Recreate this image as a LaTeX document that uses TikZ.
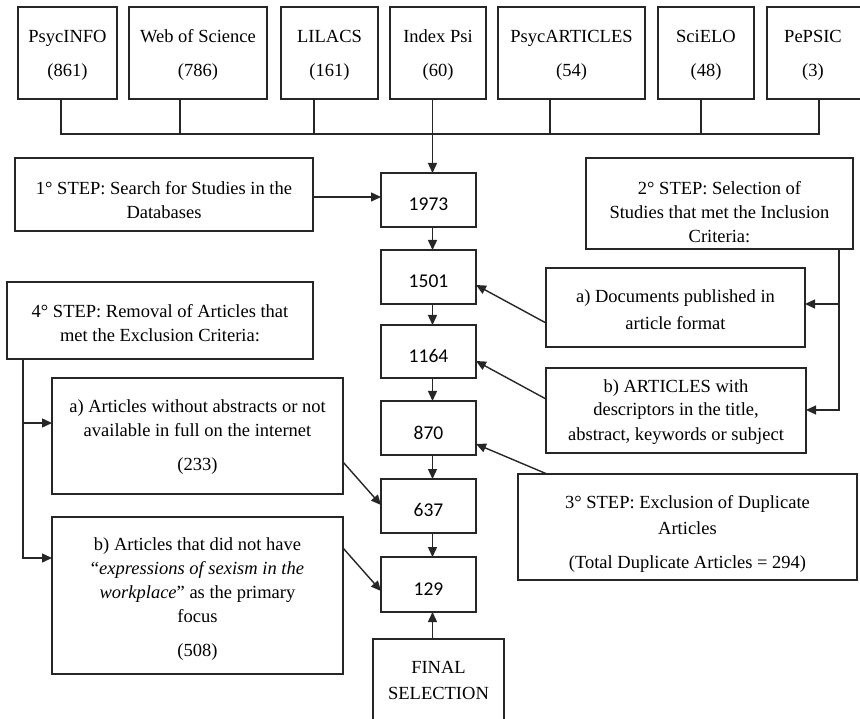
\documentclass[tikz,border=0pt]{standalone}
\usepackage{fontspec}
\setmainfont{Liberation Serif}
\newfontfamily\numfont{Carlito}
\usetikzlibrary{arrows.meta}
\newcommand{\ml}[1]{\begin{tabular}[t]{@{}c@{}}#1\end{tabular}}
\newcommand{\bx}[5]{\node[box, minimum width={(#4)-(#2)}, minimum height={(#5)-(#3)}] (#1) at ({((#2)+(#4))/2},{((#3)+(#5))/2}) {};}
\colorlet{ln}{black!85}
\tikzset{
  box/.style={draw=ln, line width=1.4pt, inner sep=0pt, outer sep=0pt},
  txt/.style={inner sep=0pt, font=\fontsize{18.5}{24}\selectfont, anchor=base},
  num/.style={inner sep=0pt, font=\numfont\fontsize{19.5}{23}\selectfont, anchor=base},
  conn/.style={draw=ln, line width=1.4pt},
  arr/.style={draw=ln, line width=1.4pt, -{Triangle[length=10pt,width=9pt]}},
}
\begin{document}
\begin{tikzpicture}[x=1pt,y=-1pt]
\useasboundingbox (0,0) rectangle (860,719);
\clip (0,0) rectangle (860,719);
% database boxes
\bx{psyc}{18}{7}{117}{99}
\bx{wos}{129}{7}{267}{99}
\bx{lil}{281}{7}{378}{99}
\bx{ipsi}{390}{7}{486}{99}
\bx{part}{498}{7}{645}{99}
\bx{sci}{658}{7}{754}{99}
\bx{pep}{767}{7}{863}{99}
\node[txt] (t-psyc) at (67.5,43) {\ml{PsycINFO\\[10pt](861)}};
\node[txt] (t-wos) at (198,43) {\ml{Web of Science\\[10pt](786)}};
\node[txt] (t-lil) at (329.5,43) {\ml{LILACS\\[10pt](161)}};
\node[txt] (t-ipsi) at (438,43) {\ml{Index Psi\\[10pt](60)}};
\node[txt] (t-part) at (571.5,43) {\ml{PsycARTICLES\\[10pt](54)}};
\node[txt] (t-sci) at (706,43) {\ml{SciELO\\[10pt](48)}};
\node[txt] (t-pep) at (813,43) {\ml{PePSIC\\[10pt](3)}};
% steps and criteria
\bx{step1}{15}{158}{313}{231}
\bx{step4}{7}{282}{313}{359}
\bx{exa}{52}{378}{343}{494}
\bx{exb}{52}{517}{343}{674}
\bx{step2}{586}{158}{853}{249}
\bx{inca}{546}{268}{805}{347}
\bx{incb}{546}{368}{806}{453}
\bx{step3}{518}{474}{857}{580}
\node[txt] (t-step1) at (164,195) {\ml{1° STEP: Search for Studies in the\\Databases}};
\node[txt] (t-step4) at (160,318) {\ml{4° STEP: Removal of Articles that\\met the Exclusion Criteria:}};
\node[txt] (t-exa) at (197.5,413) {\ml{a) Articles without abstracts or not\\available in full on the internet\\[10pt](233)}};
\node[txt] (t-exb) at (197.5,550) {\ml{b) Articles that did not have\\“\textit{expressions of sexism in the}\\\textit{workplace}” as the primary\\focus\\[10pt](508)}};
\node[txt] (t-step2) at (719.5,195) {\ml{2° STEP: Selection of\\Studies that met the Inclusion\\Criteria:}};
\node[txt] (t-inca) at (675.5,303) {\ml{a) Documents published in\\[3pt]article format}};
\node[txt] (t-incb) at (676,392) {\ml{b) ARTICLES with\\descriptors in the title,\\abstract, keywords or subject}};
\node[txt] (t-step3) at (687.5,508) {\ml{3° STEP: Exclusion of Duplicate\\[2pt]Articles\\[10pt](Total Duplicate Articles = 294)}};
% central column
\bx{n1973}{381}{173}{476}{227}
\bx{n1501}{381}{250}{476}{304}
\bx{n1164}{381}{325}{476}{378}
\bx{n870}{381}{401}{476}{455}
\bx{n637}{381}{479}{476}{533}
\bx{n129}{381}{557}{476}{612}
\bx{final}{373}{639}{504}{730}
\node[num] (t-1973) at (428.5,211) {1973};
\node[num] (t-1501) at (428.5,288) {1501};
\node[num] (t-1164) at (428.5,363) {1164};
\node[num] (t-870) at (428.5,439) {870};
\node[num] (t-637) at (428.5,516) {637};
\node[num] (t-129) at (428.5,595) {129};
\node[txt] (t-final) at (438.5,673) {\ml{FINAL\\[2pt]SELECTION}};
% bus coordinates
\coordinate (d1) at (61,134);
\coordinate (d2) at (180,134);
\coordinate (d3) at (314,134);
\coordinate (d4) at (432.5,134);
\coordinate (d5) at (550,134);
\coordinate (d6) at (701,134);
\coordinate (d7) at (819,134);
\coordinate (colx) at (432.5,0);
\coordinate (lx) at (23,0);
\coordinate (rx) at (839,0);
% top bus
\draw[conn] (psyc.south -| d1) -- (d1) -- (d7) -- (pep.south -| d7);
\draw[conn] (wos.south -| d2) -- (d2);
\draw[conn] (lil.south -| d3) -- (d3);
\draw[conn] (part.south -| d5) -- (d5);
\draw[conn] (sci.south -| d6) -- (d6);
\draw[arr] (ipsi.south -| d4) -- (n1973.north -| d4);
% step 1
\draw[arr] (step1.east |- 0,197) -- (n1973.west |- 0,197);
% central arrows
\draw[arr] (n1973.south -| colx) -- (n1501.north -| colx);
\draw[arr] (n1501.south -| colx) -- (n1164.north -| colx);
\draw[arr] (n1164.south -| colx) -- (n870.north -| colx);
\draw[arr] (n870.south -| colx) -- (n637.north -| colx);
\draw[arr] (n637.south -| colx) -- (n129.north -| colx);
\draw[arr] (final.north -| colx) -- (n129.south -| colx);
% step 2 branches
\draw[arr] (step2.south -| rx) |- (incb.east |- 0,410);
\draw[arr] (rx |- 0,304) -- (inca.east |- 0,304);
\draw[arr] (inca.west |- 0,323) -- (n1501.east |- 0,285);
\draw[arr] (incb.west |- 0,399) -- (n1164.east |- 0,361);
% step 3
\draw[arr] (step3.north -| 547,0) -- (n870.east |- 0,444);
% step 4 branches
\draw[arr] (step4.south -| lx) |- (exb.west |- 0,558);
\draw[arr] (lx |- 0,423) -- (exa.west |- 0,423);
\draw[arr] (exa.east |- 0,462) -- (n637.west |- 0,505);
\draw[arr] (exb.east |- 0,548) -- (n129.west |- 0,591);
\end{tikzpicture}
\end{document}
